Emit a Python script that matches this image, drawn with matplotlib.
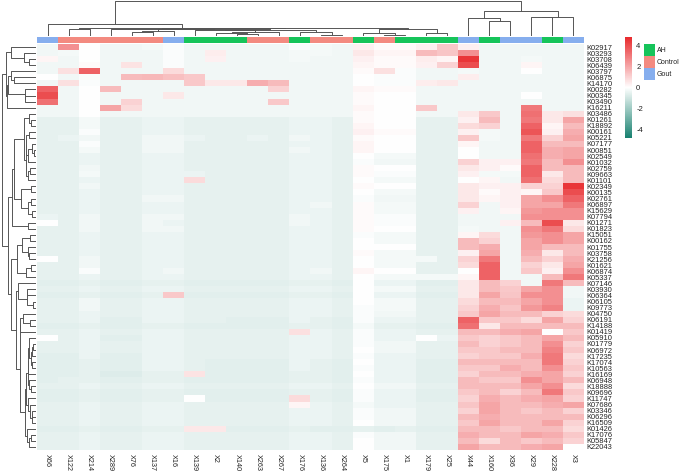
import numpy as np
import matplotlib
matplotlib.use("Agg")
import matplotlib.pyplot as plt
from matplotlib.colors import LinearSegmentedColormap, ListedColormap, Normalize
from matplotlib.patches import Rectangle

plt.rcParams["font.family"] = ["Liberation Sans", "DejaVu Sans"]
plt.rcParams["axes.unicode_minus"] = False

samples = ["X66", "X122", "X214", "X289", "X76", "X137", "X16", "X139", "X2", "X140",
           "X263", "X267", "X176", "X136", "X264", "X5", "X175", "X1", "X179", "X25",
           "X44", "X160", "X36", "X29", "X228", "X3"]
groups = ["Gout", "Control", "Control", "Control", "Control", "Control", "Gout", "AH", "AH", "AH",
          "Control", "Control", "AH", "Control", "Control", "AH", "Control", "AH", "AH", "AH",
          "Gout", "AH", "Gout", "Gout", "AH", "Gout"]
group_names = ["AH", "Control", "Gout"]
group_colors = ["#16c45a", "#f38a80", "#86aeee"]

kos = ["K02917", "K03293", "K03708", "K06439", "K03797", "K06875", "K14170", "K00282",
       "K00345", "K03490", "K16211", "K03486", "K01261", "K18892", "K00161", "K05221",
       "K07177", "K00851", "K02549", "K01032", "K02759", "K09663", "K01101", "K02349",
       "K00135", "K02761", "K06897", "K15629", "K07794", "K01271", "K01823", "K15051",
       "K00162", "K01755", "K03758", "K21256", "K01621", "K06874", "K05337", "K07146",
       "K03930", "K06364", "K06105", "K09773", "K04750", "K06191", "K14188", "K01419",
       "K05910", "K01779", "K06972", "K17235", "K17074", "K10563", "K16169", "K06948",
       "K18888", "K09696", "K11747", "K07686", "K03346", "K06296", "K16509", "K01426",
       "K17076", "K05847", "K22043"]

# row z-scores, one list per KO, columns in the order of `samples`
zscores = [
    [-.3, 2.5, 0, -.3, -.3, -.2, -.1, -.3, -.3, -.3, -.3, -.3, -.1, -.2, -.3, .3, .1, .1, .3, 1.2, .3, -.3, -.3, -.3, -.3, -.3],
    [-.3, -.2, 0, -.3, -.3, -.3, -.1, -.3, .4, -.3, -.3, -.3, -.2, -.2, -.3, .5, .2, .2, 1.5, 1.3, 2.5, -.3, -.3, -.3, -.3, -.3],
    [.2, -.3, 0, -.3, -.3, -.3, -.1, -.3, .3, -.3, -.3, -.3, -.2, -.3, -.3, .3, .1, .1, .4, .2, 4.5, -.3, -.3, -.2, -.3, -.3],
    [-.3, -.3, .1, -.3, .6, -.3, -.1, -.3, -.3, -.3, -.3, -.3, -.3, -.3, -.3, .2, .1, .1, .3, 1.0, 4.0, -.3, -.3, .2, -.3, -.3],
    [-.3, .7, 3.5, -.3, -.3, -.3, .8, -.3, -.3, -.3, -.3, -.3, -.3, -.3, -.3, .1, .7, -.1, -.3, -.3, -.2, -.3, -.3, 0, -.3, -.3],
    [0, -.3, -.1, -.3, 1.5, 1.6, 1.4, 1.2, -.3, -.3, -.3, -.3, -.3, -.3, -.3, 0, -.1, -.1, -.3, -.3, .4, -.3, -.3, -.3, -.3, -.3],
    [-.3, .7, -.1, -.3, -.3, -.3, -.3, 1.2, .5, .5, 1.8, 1.5, -.3, -.3, -.3, 0, -.1, -.1, .4, .5, -.3, -.3, -.3, -.3, -.3, -.3],
    [3.5, -.3, 0, 1.5, -.3, -.3, -.3, -.3, -.3, -.3, -.3, 1.0, -.3, -.3, -.3, .2, .1, .1, -.3, -.3, -.3, -.3, -.3, -.3, -.3, -.3],
    [4.0, -.3, 0, -.3, -.3, -.3, .5, -.3, -.3, -.3, -.3, -.3, -.3, -.3, -.3, .1, 0, 0, -.3, -.3, -.3, -.3, -.3, 0, -.3, -.3],
    [3.2, -.3, 0, -.3, 1.0, -.3, -.3, -.3, -.3, -.3, -.3, 1.2, -.3, -.3, -.3, .1, 0, 0, -.3, -.3, -.3, -.3, -.3, -.3, -.3, -.3],
    [-.3, -.3, 0, 2.0, .8, -.3, -.3, -.3, -.3, -.3, -.3, -.3, -.3, -.3, -.3, .2, 0, 0, 1.2, -.3, -.3, -.3, -.3, 3.0, -.3, -.3],
    [-.3, -.3, 0, -.3, -.3, -.3, -.3, -.3, -.3, -.3, -.3, -.3, -.3, -.3, -.3, .1, 0, 0, -.3, -.3, .5, 1.2, -.3, 3.2, .5, .7],
    [-.5, -.5, -.2, -.5, -.5, -.4, -.4, -.5, -.5, -.5, -.5, -.5, -.4, -.4, -.5, .1, 0, 0, -.5, -.5, .3, 1.5, -.3, 3.0, .5, 2.0],
    [-.5, -.5, -.2, -.5, -.5, -.4, -.4, -.5, -.5, -.5, -.5, -.5, -.4, -.4, -.5, .2, 0, 0, -.5, -.5, .8, 1.0, -.3, 3.5, .2, 1.5],
    [-.5, -.5, -.1, -.5, -.5, -.4, -.4, -.5, -.5, -.5, -.5, -.5, -.4, -.4, -.5, .3, .1, .1, -.5, -.5, .3, -.2, -.3, 3.8, .3, 1.8],
    [-.5, -.4, -.3, -.5, -.5, -.3, -.3, -.4, -.5, -.5, -.4, -.5, -.3, -.4, -.5, .1, 0, 0, -.5, -.5, 1.2, -.2, -.3, 3.0, 1.0, 2.0],
    [-.5, -.5, -.1, -.5, -.5, -.3, -.3, -.5, -.5, -.5, -.5, -.5, -.4, -.4, -.5, .2, 0, 0, -.5, -.5, .2, -.3, -.3, 3.5, 1.5, 1.5],
    [-.5, -.5, -.2, -.5, -.5, -.3, -.3, -.5, -.5, -.5, -.5, -.5, -.3, -.4, -.5, .2, 0, 0, -.5, -.5, 0, -.3, -.3, 3.5, 1.8, 2.0],
    [-.5, -.5, -.4, -.5, -.5, -.4, -.4, -.5, -.5, -.5, -.5, -.5, -.4, -.4, -.5, 0, -.2, -.2, -.5, -.5, 0, -.3, -.3, 3.2, 1.8, 2.0],
    [-.5, -.5, -.4, -.5, -.5, -.4, -.4, -.5, -.5, -.5, -.5, -.5, -.4, -.4, -.5, -.1, -.3, -.3, -.5, -.5, 1.0, .3, .3, 3.0, 1.5, 2.5],
    [-.5, -.5, -.3, -.5, -.5, -.4, -.4, -.5, -.5, -.5, -.5, -.5, -.4, -.4, -.5, .1, 0, 0, -.5, -.5, .5, .3, .1, 3.5, 1.5, 1.5],
    [-.5, -.5, -.2, -.5, -.5, -.4, -.4, -.4, -.5, -.5, -.5, -.5, -.4, -.4, -.5, .1, -.1, -.1, -.5, -.5, .3, -.2, -.2, 3.5, .5, 1.5],
    [-.5, -.5, -.4, -.5, -.5, -.4, -.4, .8, -.5, -.5, -.5, -.5, -.4, -.4, -.5, 0, -.2, -.2, -.5, -.5, 0, .2, -.3, 3.2, .8, 1.5],
    [-.5, -.5, -.3, -.5, -.5, -.4, -.4, -.5, -.5, -.5, -.5, -.5, -.4, -.4, -.5, .1, 0, 0, -.5, -.5, .5, .3, .3, 1.0, 1.0, 4.5],
    [-.5, -.5, -.4, -.5, -.5, -.4, -.4, -.5, -.5, -.5, -.5, -.5, -.4, -.4, -.5, 0, -.2, -.2, -.5, -.5, .5, .1, .3, .2, 1.2, 4.0],
    [-.5, -.5, -.4, -.5, -.5, -.3, -.3, -.5, -.5, -.5, -.5, -.5, -.4, -.4, -.5, -.1, -.3, -.3, -.5, -.5, .5, .2, .3, 2.0, 2.5, 3.5],
    [-.5, -.5, -.4, -.5, -.5, -.4, -.4, -.5, -.5, -.5, -.5, -.5, -.4, -.3, -.5, .1, -.2, -.2, -.5, -.5, 1.0, -.3, .3, 2.0, 2.0, 3.0],
    [-.5, -.5, -.4, -.5, -.5, -.4, -.4, -.5, -.5, -.5, -.5, -.5, -.4, -.4, -.5, .1, -.2, -.2, -.5, -.5, .3, -.3, .2, 2.3, 2.5, 2.5],
    [-.4, -.5, -.3, -.5, -.5, -.3, -.3, -.5, -.5, -.5, -.5, -.5, -.3, -.4, -.5, .1, -.1, -.1, -.5, -.5, -.3, -.3, -.3, 2.5, 2.5, 2.5],
    [0, -.5, -.3, -.5, -.5, -.3, -.4, -.5, -.5, -.5, -.5, -.5, -.3, -.4, -.5, .1, -.1, -.1, -.5, -.5, -.3, -.3, .3, 1.5, 4.0, .5],
    [-.5, -.5, -.3, -.5, -.5, -.3, -.3, -.5, -.5, -.5, -.5, -.5, -.4, -.4, -.5, .1, 0, 0, -.5, -.5, -.2, -.3, -.3, 2.5, 3.0, .8],
    [-.5, -.5, -.4, -.5, -.5, -.4, -.4, -.5, -.5, -.5, -.5, -.5, -.4, -.4, -.5, -.1, -.2, -.2, -.5, -.5, .2, .8, -.3, 2.3, 2.5, 2.0],
    [-.5, -.5, -.4, -.5, -.5, -.4, -.4, -.5, -.5, -.5, -.5, -.5, -.4, -.4, -.5, 0, -.2, -.2, -.5, -.5, 1.5, 1.0, -.3, 2.0, 2.5, 2.0],
    [-.5, -.5, -.4, -.5, -.5, -.4, -.4, -.5, -.5, -.5, -.5, -.5, -.4, -.4, -.5, 0, 0, 0, -.5, -.5, 1.5, 1.8, -.3, 2.0, 1.5, 1.5],
    [-.5, -.5, -.4, -.5, -.5, -.4, -.4, -.5, -.5, -.5, -.5, -.5, -.4, -.4, -.5, .1, -.2, -.2, -.5, -.5, .3, 2.0, -.3, 1.8, .5, 1.5],
    [0, -.5, -.3, -.5, -.5, -.4, -.4, -.5, -.5, -.5, -.5, -.5, -.4, -.4, -.5, 0, -.2, -.2, -.2, -.5, 1.0, 3.0, -.3, 1.5, 1.0, 1.8],
    [-.5, -.5, -.3, -.5, -.5, -.4, -.4, -.5, -.5, -.5, -.5, -.5, -.4, -.4, -.5, 0, -.2, -.2, -.5, -.5, .8, 3.5, -.3, 1.0, .5, 2.0],
    [-.5, -.5, -.1, -.5, -.5, -.4, -.3, -.5, -.5, -.5, -.5, -.5, -.4, -.3, -.5, .2, 0, 0, -.5, -.5, 0, 3.5, -.3, 1.2, .3, 2.5],
    [-.5, -.5, -.4, -.5, -.5, -.4, -.4, -.5, -.5, -.5, -.5, -.5, -.4, -.4, -.5, 0, -.2, -.2, -.2, -.2, .2, 3.5, -.3, -.3, 1.5, 3.0],
    [-.6, -.6, -.5, -.6, -.6, -.5, -.5, -.6, -.6, -.6, -.6, -.6, -.5, -.5, -.6, 0, -.4, -.4, -.6, -.6, .5, 1.5, 1.0, -.3, 3.0, 1.5],
    [-.5, -.5, -.4, -.5, -.5, -.4, -.4, -.5, -.5, -.5, -.5, -.5, -.4, -.4, -.5, 0, -.2, -.2, -.5, -.5, .5, 1.5, 1.2, 2.0, 2.5, -.3],
    [-.6, -.6, -.5, -.6, -.6, -.5, 1.2, -.6, -.6, -.6, -.6, -.6, -.5, -.5, -.6, 0, -.4, -.4, -.6, -.6, .5, 2.0, 1.3, 2.5, 2.5, -.3],
    [-.5, -.5, -.3, -.5, -.5, -.4, -.4, -.5, -.5, -.5, -.5, -.5, -.4, -.4, -.5, 0, -.2, -.2, -.5, -.5, .8, 1.5, 1.5, 2.0, 2.5, -.4],
    [-.5, -.5, -.3, -.5, -.5, -.4, -.4, -.5, -.5, -.5, -.5, -.5, -.4, -.4, -.5, -.1, -.2, -.2, -.5, -.5, 1.0, 1.8, 1.3, 2.3, 2.8, -.4],
    [-.5, -.5, -.4, -.5, -.5, -.4, -.4, -.5, -.5, -.5, -.5, -.5, -.4, -.4, -.5, -.1, -.3, -.3, -.5, -.5, 1.2, 2.0, 1.5, 1.5, 1.0, .8],
    [-.5, -.5, -.4, -.6, -.6, -.4, -.4, -.5, -.5, -.6, -.6, -.6, -.4, -.5, -.6, -.1, -.4, -.4, -.5, -.5, 3.5, 1.2, 1.2, .8, 2.0, 1.0],
    [-.6, -.6, -.5, -.6, -.6, -.5, -.5, -.6, -.6, -.6, -.6, -.6, -.5, -.5, -.6, -.2, -.5, -.5, -.6, -.6, 3.2, .5, 1.5, 1.5, 1.5, 1.5],
    [-.5, -.5, -.4, -.5, -.5, -.4, -.4, -.5, -.5, -.5, -.5, -.5, .7, -.4, -.5, -.1, -.4, -.4, -.5, -.5, 1.5, 1.5, 1.8, 2.0, 0, 1.2],
    [0, -.5, -.4, -.6, -.6, -.4, -.4, -.5, -.5, -.5, -.5, -.5, -.4, -.4, -.5, -.1, -.4, -.4, 0, -.4, 1.2, 1.0, 1.2, 1.5, 2.0, 1.5],
    [-.5, -.5, -.4, -.5, -.5, -.4, -.4, -.5, -.5, -.5, -.5, -.5, -.4, -.4, -.5, -.1, -.3, -.3, -.5, -.5, 1.5, 1.0, 1.2, 1.5, 2.5, 1.0],
    [-.5, -.5, -.4, -.5, -.5, -.4, -.4, -.5, -.5, -.5, -.5, -.5, -.4, -.4, -.5, 0, -.3, -.3, -.5, -.5, 1.2, 1.2, 1.5, 1.5, 2.8, 1.2],
    [-.6, -.6, -.4, -.6, -.6, -.4, -.4, -.5, -.5, -.5, -.5, -.5, -.4, -.4, -.5, -.1, -.4, -.4, -.5, -.5, 1.0, 1.2, 1.2, 1.8, 3.0, .8],
    [-.6, -.6, -.5, -.6, -.6, -.4, -.4, -.5, -.6, -.6, -.6, -.6, -.4, -.5, -.6, 0, -.4, -.4, -.6, -.6, 1.5, 1.5, 1.5, 1.5, 3.0, 1.0],
    [-.6, -.6, -.5, -.6, -.6, -.4, -.4, -.5, -.6, -.6, -.6, -.6, -.4, -.5, -.6, -.1, -.4, -.4, -.6, -.6, 1.2, 1.2, 1.8, 1.5, 2.5, 1.2],
    [-.6, -.6, -.5, -.7, -.7, -.5, -.5, .6, -.6, -.6, -.6, -.6, -.5, -.5, -.6, 0, -.4, -.4, -.6, -.6, 1.0, 1.5, 1.5, 1.8, 2.0, 1.0],
    [-.6, -.5, -.5, -.6, -.6, -.5, -.5, -.6, -.6, -.6, -.6, -.6, -.5, -.5, -.6, -.1, -.4, -.4, -.6, -.6, 1.5, 1.2, 1.2, 2.5, 2.0, 1.5],
    [-.5, -.5, -.4, -.5, -.5, -.4, -.4, -.5, -.5, -.5, -.5, -.5, -.4, -.4, -.5, 0, -.3, -.3, -.5, -.5, 1.5, 1.5, 1.5, 2.0, 2.5, .8],
    [-.6, -.6, -.5, -.6, -.6, -.5, -.5, -.6, -.6, -.6, -.6, -.6, -.5, -.5, -.6, -.1, -.4, -.4, -.6, -.6, 1.2, 1.5, 1.0, 1.5, 3.0, 1.2],
    [-.6, -.6, -.5, -.6, -.6, -.5, -.5, 0, -.6, -.6, -.6, -.6, .8, -.5, -.6, -.1, -.4, -.4, -.6, -.6, 1.0, 1.8, 1.5, 1.8, 2.0, 1.0],
    [-.5, -.5, -.4, -.5, -.5, -.4, -.4, -.5, -.5, -.5, -.5, -.5, .2, -.4, -.5, -.2, -.4, -.4, -.5, -.5, 1.3, 2.0, 1.5, 1.5, 1.8, 2.0],
    [-.5, -.5, -.4, -.5, -.5, -.4, -.4, -.5, -.5, -.5, -.5, -.5, -.4, -.4, -.5, -.1, -.3, -.3, -.5, -.5, 1.0, 2.0, 1.5, 1.2, 1.5, 1.0],
    [-.5, -.5, -.4, -.5, -.5, -.4, -.4, -.5, -.5, -.5, -.5, -.5, -.4, -.4, -.5, -.1, -.3, -.3, -.5, -.5, 1.5, 1.8, 1.5, 1.5, 1.5, 1.5],
    [-.5, -.5, -.4, -.5, -.5, -.4, -.4, -.5, -.5, -.5, -.5, -.5, -.4, -.4, -.5, 0, -.3, -.3, -.5, -.5, 1.2, 2.0, 1.5, 1.5, 2.0, 1.0],
    [-.6, -.6, -.5, -.6, -.6, -.5, -.5, .5, .5, -.6, -.6, -.6, -.5, -.6, -.6, -.5, -.6, -.5, -.6, -.6, 1.5, 1.5, 1.2, 1.5, 1.5, .8],
    [-.5, -.5, -.4, -.5, -.5, -.4, -.4, -.5, -.5, -.5, -.5, -.5, -.4, -.4, -.5, -.1, -.3, -.3, -.5, -.5, 1.8, 1.5, 1.5, 2.0, 1.8, 1.2],
    [-.5, -.5, -.4, -.5, -.5, -.4, -.4, -.5, -.5, -.5, -.5, -.5, -.4, -.4, -.5, 0, -.3, -.3, -.5, -.5, 1.5, .8, 1.5, 1.2, 1.5, 1.0],
    [-.5, -.5, -.4, -.5, -.5, -.4, -.4, -.5, -.5, -.5, -.5, -.5, -.4, -.4, -.5, 0, -.3, -.3, -.5, -.5, 2.0, 1.5, 1.5, 1.8, 2.0, 0],
]

cbar_ticks = [-4, -2, 0, 2, 4]


def ordered_linkage(X):
    # complete linkage, only neighbours may merge, so the leaf order stays as drawn
    D = np.sqrt(((X[:, None, :] - X[None, :, :]) ** 2).sum(-1))
    clusters = [[i] for i in range(len(X))]
    nodes = [(float(i), 0.0) for i in range(len(X))]
    segs = []
    top = 0.0
    while len(clusters) > 1:
        best = None
        for k in range(len(clusters) - 1):
            d = D[np.ix_(clusters[k], clusters[k + 1])].max()
            if best is None or d < best[0]:
                best = (d, k)
        d, k = best
        (p1, h1), (p2, h2) = nodes[k], nodes[k + 1]
        segs.append(([p1, p1, p2, p2], [h1, d, d, h2]))
        clusters[k:k + 2] = [clusters[k] + clusters[k + 1]]
        nodes[k:k + 2] = [((p1 + p2) / 2, d)]
        top = d
    return segs, top


W, H = 680, 475


def box(x0, y0, x1, y1):
    return [x0 / W, 1 - y1 / H, (x1 - x0) / W, (y1 - y0) / H]


data = np.array(zscores)
n_rows, n_cols = data.shape
cmap = LinearSegmentedColormap.from_list("tw", ["#17806f", "#ffffff", "#e82a2d"])
norm = Normalize(vmin=-4.8, vmax=4.8)

fig = plt.figure(figsize=(6.8, 4.75), dpi=100)

ax = fig.add_axes(box(37, 44, 584, 450))
im = ax.imshow(data, cmap=cmap, norm=norm, aspect="auto", interpolation="nearest")
ax.yaxis.tick_right()
ax.set_yticks(range(n_rows))
ax.set_yticklabels(kos, fontsize=5.4, color="#222222")
ax.set_xticks(range(n_cols))
ax.set_xticklabels(samples, fontsize=5.2, rotation=270, color="#222222")
ax.tick_params(length=0, pad=1.5)
ax.tick_params(axis="x", pad=3)
for s in ax.spines.values():
    s.set_visible(False)

# group annotation strip
ax_ann = fig.add_axes(box(37, 37, 584, 43))
codes = np.array([[group_names.index(g) for g in groups]])
ax_ann.imshow(codes, cmap=ListedColormap(group_colors), vmin=-0.5, vmax=2.5,
              aspect="auto", interpolation="nearest")
ax_ann.axis("off")

# column dendrogram
ax_cd = fig.add_axes(box(37, 1, 584, 36))
segs, top = ordered_linkage(data.T)
for xs, hs in segs:
    ax_cd.plot(xs, hs, color="#555555", lw=0.7)
ax_cd.set_xlim(-0.5, n_cols - 0.5)
ax_cd.set_ylim(0, top)
ax_cd.axis("off")

# row dendrogram
ax_rd = fig.add_axes(box(2, 44, 36, 450))
segs, top = ordered_linkage(data)
for ys, hs in segs:
    ax_rd.plot(hs, ys, color="#555555", lw=0.7)
ax_rd.set_ylim(n_rows - 0.5, -0.5)
ax_rd.set_xlim(top, 0)
ax_rd.axis("off")

# colour bar
ax_cb = fig.add_axes(box(625, 37, 632, 138))
cb = fig.colorbar(im, cax=ax_cb)
cb.outline.set_visible(False)
cb.set_ticks(cbar_ticks)
cb.ax.tick_params(length=0, labelsize=5.5, pad=3, labelcolor="#222222")

# group legend
ax_lg = fig.add_axes(box(640, 40, 680, 85))
ax_lg.set_xlim(640, 680)
ax_lg.set_ylim(85, 40)
for i, (name, col) in enumerate(zip(group_names, group_colors)):
    ax_lg.add_patch(Rectangle((644, 44 + 12 * i), 11, 12, color=col, lw=0))
    ax_lg.text(656.5, 50 + 12 * i, name, fontsize=5.0, va="center", ha="left",
               color="#222222", clip_on=False)
ax_lg.axis("off")

fig.savefig("out.png", dpi=100)
